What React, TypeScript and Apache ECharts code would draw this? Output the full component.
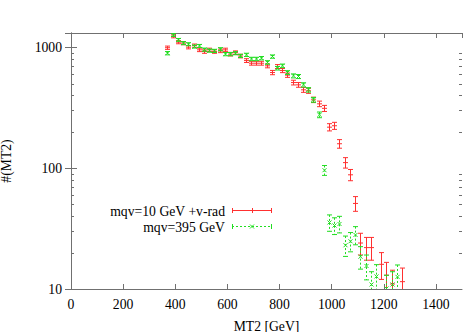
import React, { useEffect, useRef } from "react";
import * as echarts from "echarts";

// MT2 bin centres (GeV), counts and errors
const redX = [370, 390, 410, 430, 450, 470, 490, 510, 530, 550, 570, 590, 610, 630, 650, 670, 690, 710, 730, 750, 770, 790, 810, 830, 850, 870, 890, 910, 930, 950, 970, 990, 1010, 1030, 1050, 1070, 1090, 1110, 1130, 1150, 1190, 1210, 1230, 1270];
const redY = [990, 1230, 1100, 1080, 1000, 1030, 950, 920, 950, 920, 932, 950, 876, 902, 845, 775, 737, 737, 737, 701, 617, 692, 641, 587, 510, 488, 444, 436, 367, 340, 312, 218, 224, 159, 111, 88, 51, 24, 22, 22, 16, 13, 11, 11.5];
const redErr = [31, 35, 33, 33, 32, 32, 31, 30, 31, 30, 31, 31, 30, 30, 29, 28, 27, 27, 27, 26, 25, 26, 25, 24, 23, 22, 21, 21, 19, 18, 18, 15, 15, 13, 11, 9.4, 7.1, 4.9, 4.7, 4.7, 4, 3.6, 3.3, 3.4];

const greenX = [370, 390, 410, 430, 450, 470, 490, 510, 530, 550, 570, 590, 610, 630, 650, 670, 690, 710, 730, 750, 770, 790, 810, 830, 850, 870, 890, 910, 930, 950, 970, 990, 1010, 1030, 1050, 1070, 1090, 1110, 1130, 1150, 1170, 1210, 1230, 1250];
const greenY = [892, 1260, 1149, 1080, 1058, 1012, 1024, 955, 937, 932, 962, 876, 876, 892, 847, 864, 799, 799, 811, 748, 836, 670, 701, 617, 579, 572, 488, 444, 367, 276, 96, 35.5, 33.5, 34.5, 23, 24.8, 28, 18.5, 15.5, 10.9, 12.7, 10.1, 10.9, 12.6];
const greenErr = [28, 33, 31, 30, 30, 29, 29, 28, 28, 28, 28, 27, 27, 27, 26, 27, 26, 26, 26, 25, 26, 23, 24, 22, 22, 22, 20, 19, 17, 15, 9, 5.5, 5.3, 5.4, 4.4, 4.5, 4.8, 3.9, 3.6, 3, 3.2, 2.9, 3, 3.2];

const xTicks = { min: 0, max: 1500, interval: 200 };
const yRange = { min: 10, max: 1310 };
const minorTicks = [20, 30, 40, 50, 60, 70, 80, 90, 200, 300, 400, 500, 600, 700, 800, 900];

const seriesNames = ["mqv=10 GeV +v-rad", "mqv=395 GeV"];

const RED = "#ff3030";
const GREEN = "#22dd22";
const FRAME = "#707070";
const FONT = "'Liberation Serif', 'DejaVu Serif', serif";
const FS = 13.7;

function errRender(color: string, dashed: boolean, marker: "plus" | "cross") {
  return (params: any, api: any) => {
    const x = api.value(0);
    const y = api.value(1);
    const e = api.value(2);
    const c = api.coord([x, y]);
    const top = api.coord([x, y + e]);
    const bot = api.coord([x, y - e]);
    const px = Math.round(c[0]) + 0.5;
    const st = { stroke: color, lineWidth: 1 };
    const children: any[] = [
      { type: "line", shape: { x1: px, y1: top[1], x2: px, y2: bot[1] }, style: { ...st, lineDash: dashed ? [2, 2] : null } },
      { type: "line", shape: { x1: px - 2.5, y1: top[1], x2: px + 2.5, y2: top[1] }, style: st },
      { type: "line", shape: { x1: px - 2.5, y1: bot[1], x2: px + 2.5, y2: bot[1] }, style: st },
    ];
    if (marker === "plus") {
      children.push({ type: "line", shape: { x1: px - 2.5, y1: c[1], x2: px + 2.5, y2: c[1] }, style: st });
    } else {
      children.push({ type: "line", shape: { x1: px - 2, y1: c[1] - 2, x2: px + 2, y2: c[1] + 2 }, style: st });
      children.push({ type: "line", shape: { x1: px - 2, y1: c[1] + 2, x2: px + 2, y2: c[1] - 2 }, style: st });
    }
    return { type: "group", children };
  };
}

export default function App() {
  const ref = useRef<HTMLDivElement>(null);
  useEffect(() => {
    if (!ref.current) return;
    const chart = echarts.init(ref.current, null, { renderer: "svg" });
    const axisLine = { show: true, lineStyle: { color: FRAME, width: 1 } };
    const labelStyle = { color: "#000", fontSize: FS, fontFamily: FONT };
    const redData = redX.map((x, i) => [x, redY[i], redErr[i]]);
    const greenData = greenX.map((x, i) => [x, greenY[i], greenErr[i]]);
    const lx1 = 232, lx2 = 272, lxm = 252, ly1 = 210.5, ly2 = 226.5;
    const font = `${FS}px ${FONT}`;
    chart.setOption({
      animation: false,
      backgroundColor: "#fff",
      grid: { left: 71, top: 33, right: 1, bottom: 43, containLabel: false, outerBoundsMode: "none" },
      xAxis: [
        {
          type: "value", ...xTicks, position: "bottom",
          axisLine, splitLine: { show: false },
          axisTick: { inside: true, length: 5, lineStyle: { color: FRAME } },
          axisLabel: { ...labelStyle, margin: 8, showMaxLabel: false, formatter: (v: number) => String(Math.round(v)) },
          name: "MT2 [GeV]", nameLocation: "middle", nameGap: 30,
          nameTextStyle: labelStyle,
        },
        {
          type: "value", ...xTicks, position: "top",
          axisLine, splitLine: { show: false },
          axisTick: { inside: true, length: 5, lineStyle: { color: FRAME } },
          axisLabel: { show: false },
        },
      ],
      yAxis: [
        {
          type: "log", logBase: 10, ...yRange, position: "left",
          axisLine, splitLine: { show: false },
          axisTick: { inside: true, length: 6, lineStyle: { color: FRAME } },
          axisLabel: { ...labelStyle, margin: 9, showMaxLabel: false, formatter: (v: number) => String(Math.round(v)) },
          name: "#(MT2)", nameLocation: "middle", nameGap: 58, nameRotate: 90,
          nameTextStyle: labelStyle,
        },
        {
          type: "log", logBase: 10, ...yRange, position: "right",
          axisLine, splitLine: { show: false },
          axisTick: { inside: true, length: 6, lineStyle: { color: FRAME } },
          axisLabel: { show: false },
        },
      ],
      series: [
        {
          type: "custom", name: "minor ticks", xAxisIndex: 0, yAxisIndex: 0, silent: true,
          data: minorTicks.map((v) => [0, v]),
          encode: { x: 0, y: 1 },
          renderItem: (params: any, api: any) => {
            const cs = params.coordSys;
            const p = api.coord([0, api.value(1)]);
            const y = Math.round(p[1]) + 0.5;
            const st = { stroke: FRAME, lineWidth: 1 };
            return {
              type: "group",
              children: [
                { type: "line", shape: { x1: cs.x, y1: y, x2: cs.x + 3, y2: y }, style: st },
                { type: "line", shape: { x1: cs.x + cs.width - 3, y1: y, x2: cs.x + cs.width, y2: y }, style: st },
              ],
            };
          },
        },
        {
          type: "custom", name: seriesNames[0], xAxisIndex: 0, yAxisIndex: 0, clip: true,
          data: redData, encode: { x: 0, y: 1 },
          renderItem: errRender(RED, false, "plus"),
        },
        {
          type: "custom", name: seriesNames[1], xAxisIndex: 0, yAxisIndex: 0, clip: true,
          data: greenData, encode: { x: 0, y: 1 },
          renderItem: errRender(GREEN, true, "cross"),
        },
      ],
      graphic: [
        { type: "text", x: 225, y: ly1 + 0.5, style: { text: seriesNames[0], fill: "#000", font, align: "right", verticalAlign: "middle" } },
        { type: "text", x: 225, y: ly2 + 0.5, style: { text: seriesNames[1], fill: "#000", font, align: "right", verticalAlign: "middle" } },
        { type: "line", shape: { x1: lx1, y1: ly1, x2: lx2, y2: ly1 }, style: { stroke: RED, lineWidth: 1 } },
        { type: "line", shape: { x1: lx1 + 0.5, y1: ly1 - 2.5, x2: lx1 + 0.5, y2: ly1 + 2.5 }, style: { stroke: RED, lineWidth: 1 } },
        { type: "line", shape: { x1: lx2 - 0.5, y1: ly1 - 2.5, x2: lx2 - 0.5, y2: ly1 + 2.5 }, style: { stroke: RED, lineWidth: 1 } },
        { type: "line", shape: { x1: lxm + 0.5, y1: ly1 - 2.5, x2: lxm + 0.5, y2: ly1 + 2.5 }, style: { stroke: RED, lineWidth: 1 } },
        { type: "line", shape: { x1: lx1, y1: ly2, x2: lx2, y2: ly2 }, style: { stroke: GREEN, lineWidth: 1, lineDash: [2, 2] } },
        { type: "line", shape: { x1: lx1 + 0.5, y1: ly2 - 2.5, x2: lx1 + 0.5, y2: ly2 + 2.5 }, style: { stroke: GREEN, lineWidth: 1 } },
        { type: "line", shape: { x1: lx2 - 0.5, y1: ly2 - 2.5, x2: lx2 - 0.5, y2: ly2 + 2.5 }, style: { stroke: GREEN, lineWidth: 1 } },
        { type: "line", shape: { x1: lxm - 2, y1: ly2 - 2, x2: lxm + 2, y2: ly2 + 2 }, style: { stroke: GREEN, lineWidth: 1 } },
        { type: "line", shape: { x1: lxm - 2, y1: ly2 + 2, x2: lxm + 2, y2: ly2 - 2 }, style: { stroke: GREEN, lineWidth: 1 } },
      ],
    });
    return () => chart.dispose();
  }, []);
  return <div ref={ref} style={{ position: "fixed", left: 0, top: 0, width: 463, height: 332, background: "#fff" }} />;
}
